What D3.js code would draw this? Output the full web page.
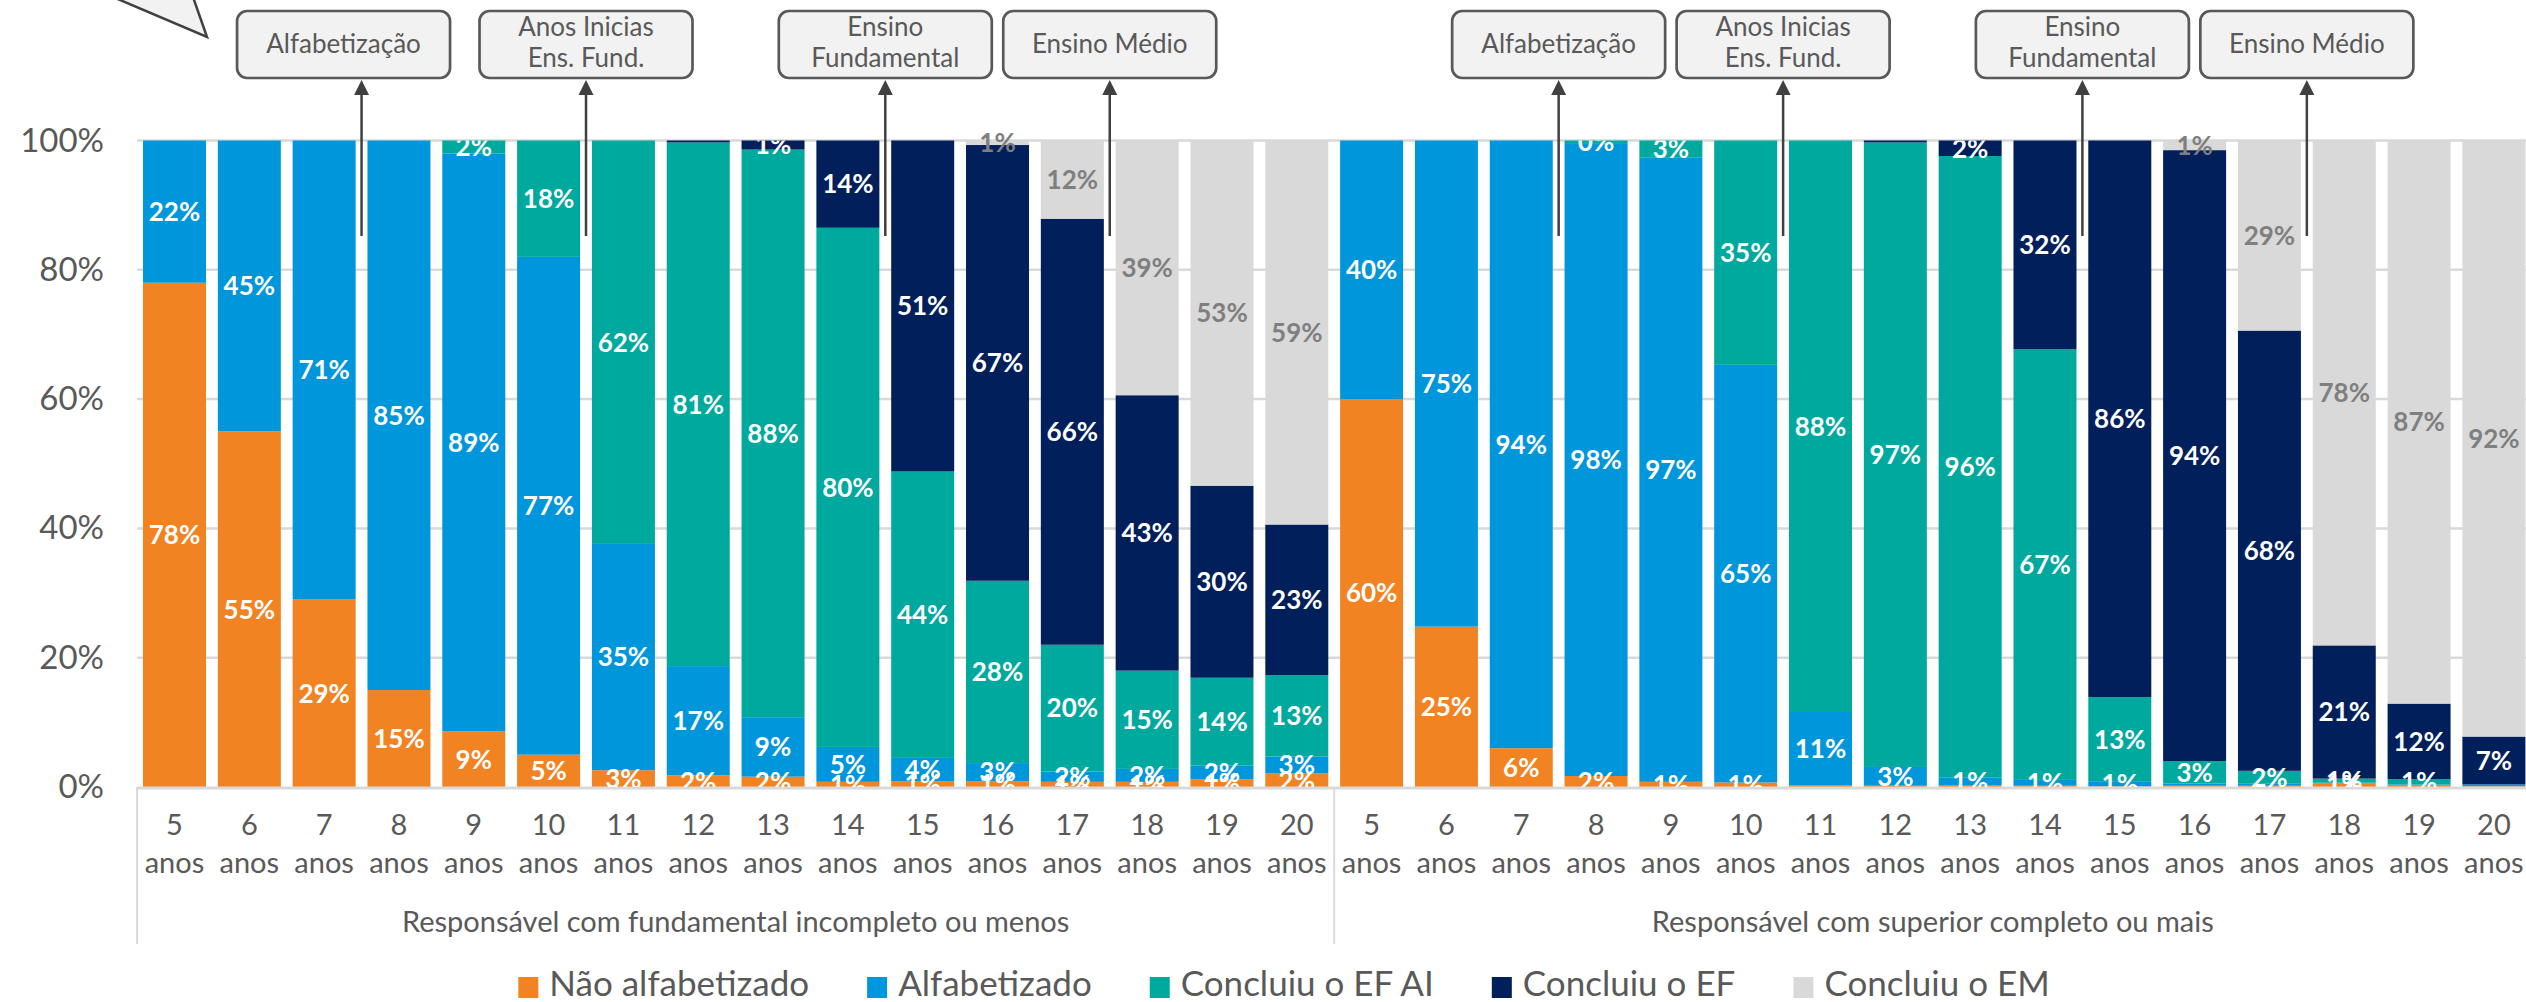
<!DOCTYPE html>
<html><head><meta charset="utf-8">
<script src="https://cdn.jsdelivr.net/npm/d3@7"></script>
<style>
body{margin:0;background:#fff;overflow:hidden}
svg{display:block}
text{font-family:Lato,"Open Sans",sans-serif}
</style>
</head><body>
<svg id="chart" width="2526" height="1002"></svg>
<script>
// ---------------- DATA ----------------
const ages = ["5","6","7","8","9","10","11","12","13","14","15","16","17","18","19","20"];
const groupLabels = ["Responsável com fundamental incompleto ou menos","Responsável com superior completo ou mais"];
const seriesNames = ["Não alfabetizado","Alfabetizado","Concluiu o EF AI","Concluiu o EF","Concluiu o EM"];
const seriesColors = ["#F28322","#0096DB","#00A99D","#001F5B","#D9D9D9"];
const yTickValues = [0,0.2,0.4,0.6,0.8,1];

// Responsável com fundamental incompleto ou menos (%)
const naoAlf1 = [78,55,29,15,8.6,5,2.6,1.8,1.6,0.8,0.9,0.9,0.8,0.8,1.2,2.1];
const alf1    = [22,45,71,85,89.4,77,35.0,16.9,9.2,5.4,3.6,2.8,1.6,2.0,2.1,2.6];
const efai1   = [0,0,0,0,2.0,18,62.4,81.0,87.8,80.3,44.3,28.2,19.6,15.2,13.6,12.6];
const ef1     = [0,0,0,0,0,0,0,0.3,1.4,13.5,51.2,67.4,65.9,42.6,29.7,23.3];
const em1     = [0,0,0,0,0,0,0,0,0,0,0,0.7,12.1,39.4,53.4,59.4];

// Responsável com superior completo ou mais (%)
const naoAlf2 = [60,24.8,6.0,1.7,0.8,0.7,0.3,0.2,0.3,0.2,0.1,0.2,0.2,0.6,0.3,0.1];
const alf2    = [40,75.2,94.0,97.9,96.6,64.6,11.3,2.9,1.2,0.9,0.8,0.33,0.3,0.1,0.1,0.3];
const efai2   = [0,0,0,0.4,2.6,34.7,88.4,96.6,96.1,66.6,13.0,3.49,2.0,0.6,0.8,0];
const ef2     = [0,0,0,0,0,0,0,0.3,2.4,32.3,86.1,94.49,68.1,20.6,11.7,7.4];
const em2     = [0,0,0,0,0,0,0,0,0,0,0,1.49,29.4,78.1,87.1,92.2];

// Annotations: text lines and the age index where the arrow sits (boundary before that age)
const annotTexts = [["Alfabetização"],["Anos Inicias","Ens. Fund."],["Ensino","Fundamental"],["Ensino Médio"]];
const annotBoundary = [3,6,10,13];

// ---------------- BUILD ----------------
const keys = ["na","a","ai","ef","em"];
const groupSeries = [[naoAlf1,alf1,efai1,ef1,em1],[naoAlf2,alf2,efai2,ef2,em2]];
const rows = [];
groupSeries.forEach((ser,g)=>{
  ages.forEach((age,i)=>{
    const r = {id:g+"-"+age, g, age, i};
    keys.forEach((k,s)=>r[k]=ser[s][i]);
    rows.push(r);
  });
});

const svg = d3.select("#chart");
const W = 2526, H = 1002;
const left = 137.1, right = 2531.3, y0px = 787, y1px = 140.5;

const x = d3.scaleBand().domain(rows.map(r=>r.id)).range([left,right]).paddingInner(0.158).paddingOuter(0.079);
const y = d3.scaleLinear().domain([0,1]).range([y0px,y1px]);
const step = x.step();

const stacked = d3.stack().keys(keys).offset(d3.stackOffsetExpand)(rows);

// gridlines
svg.append("g").selectAll("line").data(yTickValues.filter(v=>v>0)).join("line")
  .attr("x1",left).attr("x2",W).attr("y1",d=>y(d)).attr("y2",d=>y(d))
  .attr("stroke","#D9D9D9").attr("stroke-width",2.5);

// y-axis labels
const yAxis = d3.axisLeft(y).tickValues(yTickValues).tickFormat(d3.format(".0%")).tickSize(0).tickPadding(0);
const yg = svg.append("g").attr("transform",`translate(${104},0)`).call(yAxis);
yg.select(".domain").remove();
yg.selectAll("text").attr("font-size",33).attr("fill","#595959").attr("font-family","Lato,sans-serif").attr("dy","0.32em");

// bars
const barG = svg.append("g");
stacked.forEach((layer,s)=>{
  barG.append("g").attr("fill",seriesColors[s]).selectAll("rect").data(layer).join("rect")
    .attr("x",d=>x(d.data.id)).attr("width",x.bandwidth())
    .attr("y",d=>y(d[1])).attr("height",d=>Math.max(0,y(d[0])-y(d[1])));
});

// baseline axis
svg.append("line").attr("x1",left).attr("x2",W).attr("y1",y0px+1).attr("y2",y0px+1)
  .attr("stroke","#D9D9D9").attr("stroke-width",3);

// labels (clipped to plot area)
svg.append("clipPath").attr("id","plotclip").append("rect")
  .attr("x",left).attr("y",y1px).attr("width",right-left).attr("height",y0px-y1px);
const lblG = svg.append("g");
stacked.forEach((layer,s)=>{
  const k = keys[s];
  const g = lblG.append("g");
  if(k!=="em") g.attr("clip-path","url(#plotclip)");
  g.selectAll("text").data(layer.filter(d=>d.data[k]>=0.35)).join("text")
    .attr("x",d=>x(d.data.id)+x.bandwidth()/2)
    .attr("y",d=>(y(d[0])+y(d[1]))/2)
    .attr("dy","0.36em")
    .attr("text-anchor","middle")
    .attr("font-size",26).attr("font-weight","bold")
    .attr("fill",k==="em"?"#7F7F7F":"#FFFFFF")
    .text(d=>Math.round(d.data[k])+"%");
});

// category labels
const catG = svg.append("g");
rows.forEach(r=>{
  const cx = x(r.id)+x.bandwidth()/2;
  catG.append("text").attr("x",cx).attr("y",835).attr("text-anchor","middle")
    .attr("font-size",29).attr("fill","#595959").text(r.age);
  catG.append("text").attr("x",cx).attr("y",873).attr("text-anchor","middle")
    .attr("font-size",29).attr("fill","#595959").text("anos");
});
// group dividers & labels
[0,1,2].forEach(g=>{
  const gx = left + g*ages.length*step;
  svg.append("line").attr("x1",gx).attr("x2",gx).attr("y1",y0px).attr("y2",944)
    .attr("stroke","#D9D9D9").attr("stroke-width",2);
});
groupLabels.forEach((lab,g)=>{
  const gx = left + (g+0.5)*ages.length*step;
  svg.append("text").attr("x",gx).attr("y",932).attr("text-anchor","middle")
    .attr("font-size",29).attr("fill","#595959").text(lab);
});

// annotations
const annG = svg.append("g");
[0,1].forEach(g=>{
  annotTexts.forEach((lines,j)=>{
    const ax = left + (g*ages.length + annotBoundary[j])*step;
    const bx = (g===0 && j===0) ? ax-18 : ax;
    const bw = 213, by = 11, bh = 67;
    annG.append("rect").attr("x",bx-bw/2).attr("y",by).attr("width",bw).attr("height",bh)
      .attr("rx",10).attr("fill","#F2F2F2").attr("stroke","#595959").attr("stroke-width",2.7);
    if(lines.length===1){
      annG.append("text").attr("x",bx).attr("y",53).attr("text-anchor","middle")
        .attr("font-size",26).attr("fill","#595959").text(lines[0]);
    } else {
      annG.append("text").attr("x",bx).attr("y",36).attr("text-anchor","middle")
        .attr("font-size",26).attr("fill","#595959").text(lines[0]);
      annG.append("text").attr("x",bx).attr("y",67).attr("text-anchor","middle")
        .attr("font-size",26).attr("fill","#595959").text(lines[1]);
    }
    annG.append("line").attr("x1",ax).attr("x2",ax).attr("y1",236).attr("y2",92)
      .attr("stroke","#404040").attr("stroke-width",2.5);
    annG.append("path").attr("d",`M${ax},80 L${ax-7.5},95 L${ax+7.5},95 Z`).attr("fill","#404040");
  });
});

// speech bubble tail at top-left
svg.append("path").attr("d","M113,-3 L207,37 L193,-3")
  .attr("fill","#F2F2F2").attr("stroke","#404040").attr("stroke-width",2.5).attr("stroke-linejoin","miter");

// legend
const legG = svg.append("g");
let lx = 0;
seriesNames.forEach((name,s)=>{
  const it = legG.append("g").attr("transform",`translate(${lx},0)`);
  it.append("rect").attr("x",0).attr("y",977).attr("width",20).attr("height",21).attr("fill",seriesColors[s]);
  const t = it.append("text").attr("x",31).attr("y",996).attr("font-size",35).attr("fill","#595959").text(name);
  const w = t.node().getComputedTextLength();
  lx += 31 + w + 58;
});
const totalW = lx - 58;
legG.attr("transform",`translate(${1284 - totalW/2},0)`);
</script>
</body></html>
